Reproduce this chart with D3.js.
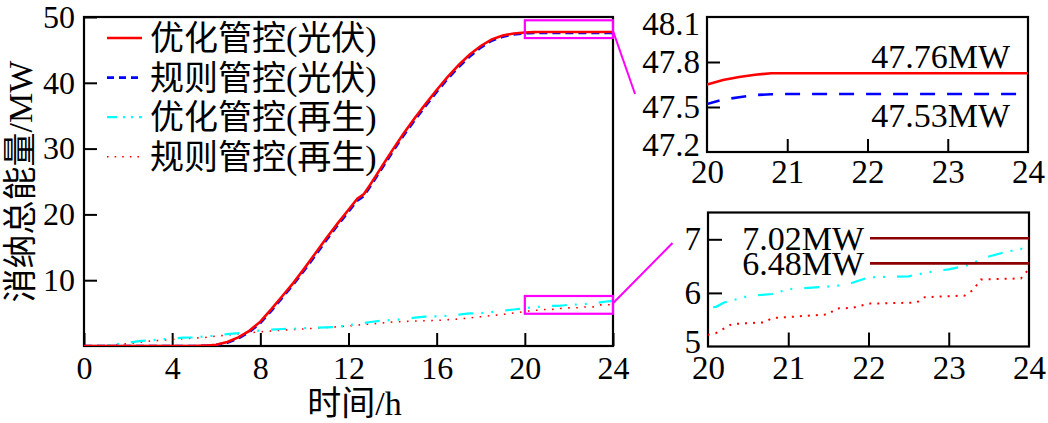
<!DOCTYPE html>
<html><head><meta charset="utf-8">
<script src="https://cdn.jsdelivr.net/npm/d3@7"></script>
<style>
body{margin:0;background:#fff}
svg{display:block}
text{font-family:"Liberation Serif","Noto Sans CJK SC",serif;fill:#000}
</style>
</head><body>
<svg id="chart" width="1048" height="423"></svg>
<script>
// ---------------- data ----------------
const pvTime = [0,1,2,3,4,5,5.5,6,6.5,7,7.5,8,8.5,9,9.5,10,10.5,11,11.5,12,12.4,12.7,13,13.5,14,14.5,15,15.5,16,16.5,17,17.5,18,18.5,19,19.5,20,20.2,20.4,20.6,20.8,21,22,23,24];
const pvOpt  = [0,0,0,0,0,0,0.05,0.2,0.6,1.3,2.3,3.7,5.6,7.6,9.6,11.8,14.1,16.4,18.6,20.7,22.4,23.1,24.6,27.2,29.8,32.3,34.6,36.8,38.9,40.9,42.7,44.3,45.6,46.6,47.2,47.5,47.65,47.68,47.70,47.715,47.725,47.725,47.725,47.725,47.725];
const pvRule = [0,0,0,0,0,0,0.03,0.15,0.5,1.15,2.1,3.5,5.35,7.35,9.35,11.5,13.8,16.1,18.3,20.4,22.1,22.8,24.3,26.9,29.5,32.0,34.3,36.5,38.6,40.6,42.4,44.0,45.35,46.4,47.0,47.35,47.52,47.55,47.565,47.58,47.585,47.587,47.587,47.587,47.587];

const regenOptTime = [0,0.6,1,1.5,2,2.5,3,3.5,4,4.5,5,5.5,6,6.5,7,7.5,8,8.5,9,9.5,10,10.5,11,11.5,12,12.5,13,13.5,14,14.5,15,15.5,16,16.5,17,17.5,18,18.5,19,19.5,20,20.1,20.2,20.5,20.8,21,21.3,21.6,21.8,22,22.5,22.8,23,23.2,23.5,23.7,23.9,24];
const regenOpt     = [0,0.02,0.1,0.3,0.5,0.75,0.85,1.0,1.15,1.27,1.3,1.45,1.6,1.8,1.95,2.15,2.35,2.5,2.58,2.62,2.7,2.78,2.84,2.9,3.15,3.4,3.65,3.85,3.95,4.1,4.3,4.46,4.5,4.6,4.78,4.95,5.0,5.15,5.35,5.55,5.72,5.74,5.82,5.94,5.98,6.07,6.1,6.13,6.19,6.29,6.31,6.4,6.44,6.5,6.68,6.76,6.82,7.0];
const regenRuleTime = [0,1,1.8,2.5,3,4,5,5.5,6,7,8,9,10,11,12,13,14,15,16,17,18,19,20,20.1,20.3,20.7,20.8,21.5,21.6,21.8,22,22.6,22.7,23.2,23.3,23.4,23.9,24];
const regenRule     = [0,0.05,0.3,0.55,0.75,1.0,1.2,1.3,1.5,1.85,2.15,2.4,2.6,2.8,3.05,3.35,3.65,3.8,3.88,4.1,4.45,4.8,5.22,5.25,5.42,5.45,5.53,5.6,5.71,5.72,5.8,5.82,5.92,5.95,6.05,6.25,6.27,6.45];

const legendLabels = ["优化管控(光伏)","规则管控(光伏)","优化管控(再生)","规则管控(再生)"];
const mainXTicks = [0,4,8,12,16,20,24];
const mainYTicks = [10,20,30,40,50];
const inset1YTicks = [47.2,47.5,47.8,48.1];
const inset2YTicks = [5,6,7];
const insetXTicks = [20,21,22,23,24];
const inset1Labels = ["47.76MW","47.53MW"];
const inset2Marks = [7.02,6.55];
const inset2Labels = ["7.02MW","6.48MW"];
const zoomBoxes = [[20,24,46.8,49.5],[20,24,4.9,7.6]];
const zoomLinks = [[24,47.9,25.0,38.3],[24,6.5,26.7,15.65]];

// ---------------- styles ----------------
const C = {red:"#ff0000", blue:"#0000ff", cyan:"#00ffff", mag:"#ff00ff", dark:"#8b0000"};
const series = [
  {t:pvTime, v:pvOpt,  color:C.red,  w:2.6, dash:null,              ldash:null},
  {t:pvTime, v:pvRule, color:C.blue, w:2.6, dash:"8,5",             ldash:"7,5"},
  {t:regenOptTime, v:regenOpt, color:C.cyan, w:2.2, dash:"15,8,2,8,2,12", ldash:"10,6,2,6,2,6"},
  {t:regenRuleTime, v:regenRule, color:C.red, w:1.6, dash:"1.6,6.5", ldash:"1.6,6"}
];

const svg = d3.select("#chart");
const defs = svg.append("defs");

function panel(id, x0, x1, y0, y1, xd, yd) {
  const x = d3.scaleLinear().domain(xd).range([x0, x1]);
  const y = d3.scaleLinear().domain(yd).range([y1, y0]);
  defs.append("clipPath").attr("id", id).append("rect")
    .attr("x", x0).attr("y", y0).attr("width", x1 - x0).attr("height", y1 - y0);
  return {x, y, x0, x1, y0, y1, id};
}

function drawAxes(p, xt, yt, fs, xpad, ypad, tick) {
  const gx = svg.append("g").attr("transform", `translate(0,${p.y1})`)
    .call(d3.axisBottom(p.x).tickValues(xt).tickSize(-tick).tickPadding(xpad).tickFormat(d3.format("d")));
  const gy = svg.append("g").attr("transform", `translate(${p.x0},0)`)
    .call(d3.axisLeft(p.y).tickValues(yt).tickSize(-tick).tickPadding(ypad).tickFormat(d => String(d)));
  [gx, gy].forEach(g => {
    g.select(".domain").remove();
    g.selectAll("line").attr("stroke", "#000").attr("stroke-width", 2);
    g.selectAll("text").style("font-size", fs + "px").attr("fill", "#000");
    g.attr("font-family", null).attr("font-size", null);
  });
  svg.append("rect").attr("x", p.x0).attr("y", p.y0).attr("width", p.x1 - p.x0).attr("height", p.y1 - p.y0)
    .attr("fill", "none").attr("stroke", "#000").attr("stroke-width", 2.2);
  return {gx, gy};
}

function drawSeries(p, list) {
  const g = svg.append("g").attr("clip-path", `url(#${p.id})`);
  list.forEach(s => {
    const pts = s.t.map((t, i) => [t, s.v[i]]);
    const line = d3.line().x(d => p.x(d[0])).y(d => p.y(d[1]));
    g.append("path").attr("d", line(pts)).attr("fill", "none")
      .attr("stroke", s.color).attr("stroke-width", s.w)
      .attr("stroke-dasharray", s.dash);
  });
}

// ---------------- main panel ----------------
const M = panel("clipMain", 84, 613, 17, 346, [0, 24], [0, 50]);
drawAxes(M, mainXTicks, mainYTicks, 32, 10, 9, 13);
drawSeries(M, [series[3], series[2], series[1], series[0]]);

// zoom boxes & links
zoomBoxes.forEach(b => {
  svg.append("rect").attr("x", M.x(b[0])).attr("y", M.y(b[3]))
    .attr("width", M.x(b[1]) - M.x(b[0])).attr("height", M.y(b[2]) - M.y(b[3]))
    .attr("fill", "none").attr("stroke", C.mag).attr("stroke-width", 2.2);
});
zoomLinks.forEach(l => {
  svg.append("line").attr("x1", M.x(l[0])).attr("y1", M.y(l[1]))
    .attr("x2", M.x(l[2])).attr("y2", M.y(l[3]))
    .attr("stroke", C.mag).attr("stroke-width", 2);
});

// legend
const leg = svg.append("g");
legendLabels.forEach((lab, i) => {
  const cy = 38 + i * 39.6;
  const s = series[i];
  leg.append("line").attr("x1", 107).attr("x2", 142).attr("y1", cy).attr("y2", cy)
    .attr("stroke", s.color).attr("stroke-width", s.w).attr("stroke-dasharray", s.ldash);
  leg.append("text").attr("x", 150).attr("y", cy).attr("dy", "0.36em")
    .style("font-size", "34px").text(lab);
});

// axis titles
svg.append("text").attr("x", (M.x0 + M.x1) / 2 + 6).attr("y", 415)
  .attr("text-anchor", "middle").style("font-size", "34px").text("时间/h");
svg.append("text").attr("transform", `translate(32,${(M.y0 + M.y1) / 2}) rotate(-90)`)
  .attr("text-anchor", "middle").style("font-size", "34px").text("消纳总能量/MW");

// ---------------- inset 1 ----------------
const I1 = panel("clipI1", 707, 1028, 17, 152, [20, 24], [47.2, 48.1]);
const a1 = drawAxes(I1, insetXTicks, inset1YTicks, 33, 8, 7, 13);
a1.gy.selectAll("line").filter(d => d === 47.2 || d === 48.1).remove();
a1.gx.selectAll("line").filter(d => d === 20 || d === 24).remove();
a1.gy.selectAll("text").filter(d => d === 48.1).attr("dy", "0.52em");
a1.gy.selectAll("text").filter(d => d === 47.2).attr("dy", "0.1em");
drawSeries(I1, [
  Object.assign({}, series[1], {dash: "15,12"}),
  series[0]
]);
svg.append("text").attr("x", 1010).attr("y", 68).attr("text-anchor", "end")
  .style("font-size", "34px").text(inset1Labels[0]);
svg.append("text").attr("x", 1010).attr("y", 127).attr("text-anchor", "end")
  .style("font-size", "34px").text(inset1Labels[1]);

// ---------------- inset 2 ----------------
const I2 = panel("clipI2", 708, 1029, 212.5, 346.5, [20, 24], [5, 7.5]);
const a2 = drawAxes(I2, insetXTicks, inset2YTicks, 33, 9, 7, 14);
a2.gy.selectAll("line").filter(d => d === 5).remove();
a2.gx.selectAll("line").filter(d => d === 20 || d === 24).remove();
a2.gy.selectAll("text").filter(d => d === 5).attr("dy", "0.18em");
drawSeries(I2, [
  Object.assign({}, series[3], {w: 2, dash: "2,6"}),
  series[2]
]);
inset2Marks.forEach((m, i) => {
  svg.append("line").attr("x1", 870).attr("x2", I2.x1).attr("y1", I2.y(m)).attr("y2", I2.y(m))
    .attr("stroke", C.dark).attr("stroke-width", 2.6);
  svg.append("text").attr("x", 864).attr("y", I2.y(m)).attr("dy", "0.35em")
    .attr("text-anchor", "end").style("font-size", "34px").text(inset2Labels[i]);
});
</script>
</body></html>
